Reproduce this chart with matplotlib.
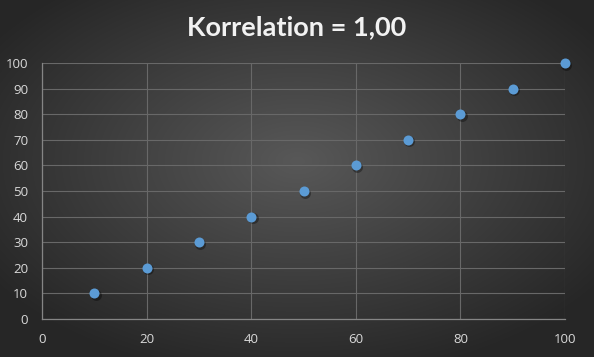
import numpy as np
import matplotlib
matplotlib.use("Agg")
import matplotlib.pyplot as plt

x_vals = [10, 20, 30, 40, 50, 60, 70, 80, 90, 100]
y_vals = [10, 20, 30, 40, 50, 60, 70, 80, 90, 100]
title = "Korrelation = 1,00"
x_ticks = [0, 20, 40, 60, 80, 100]
y_ticks = [0, 10, 20, 30, 40, 50, 60, 70, 80, 90, 100]

W, H = 594, 357
fig = plt.figure(figsize=(W / 100, H / 100), dpi=100)

# radial gradient background
bg = fig.add_axes([0, 0, 1, 1])
yy, xx = np.mgrid[0:H, 0:W]
cx, cy = W / 2, H * 0.45
r = np.sqrt(((xx - cx) / (W * 0.62)) ** 2 + ((yy - cy) / (H * 0.62)) ** 2)
r = np.clip(r, 0, 1)
inner = np.array([0x58, 0x58, 0x58]) / 255
outer = np.array([0x26, 0x26, 0x26]) / 255
img = inner[None, None, :] * (1 - r[..., None]) + outer[None, None, :] * r[..., None]
bg.imshow(img, extent=[0, 1, 0, 1], aspect="auto", zorder=0)
bg.set_axis_off()

ax = fig.add_axes([42 / W, 1 - 319 / H, (565 - 42) / W, (319 - 63) / H])
ax.patch.set_alpha(0)
ax.set_xlim(0, 100)
ax.set_ylim(0, 100)
ax.set_xticks(x_ticks)
ax.set_yticks(y_ticks)
ax.grid(True, color="#686868", linewidth=0.8)
ax.set_axisbelow(True)
for s in ["top", "right"]:
    ax.spines[s].set_visible(False)
for s in ["left", "bottom"]:
    ax.spines[s].set_color("#858585")
    ax.spines[s].set_linewidth(0.9)
ax.tick_params(length=0, colors="#d9d9d9", labelsize=9.5)
ax.tick_params(axis="x", pad=10)
ax.tick_params(axis="y", pad=10)
for lab in ax.get_xticklabels() + ax.get_yticklabels():
    lab.set_fontfamily("Open Sans")

# shadow
ax.scatter(np.array(x_vals) + 0.25, np.array(y_vals) - 0.6, s=62, color="black",
           alpha=0.35, linewidths=0, zorder=3, clip_on=False)
ax.scatter(x_vals, y_vals, s=52, color="#5b9bd5", linewidths=0, zorder=4, clip_on=False)

fig.text(0.5, 1 - 27 / H, title, ha="center", va="center", color="#f2f2f2",
         fontsize=19.5, fontweight="bold", family="Lato")

fig.savefig("out.png", dpi=100)
